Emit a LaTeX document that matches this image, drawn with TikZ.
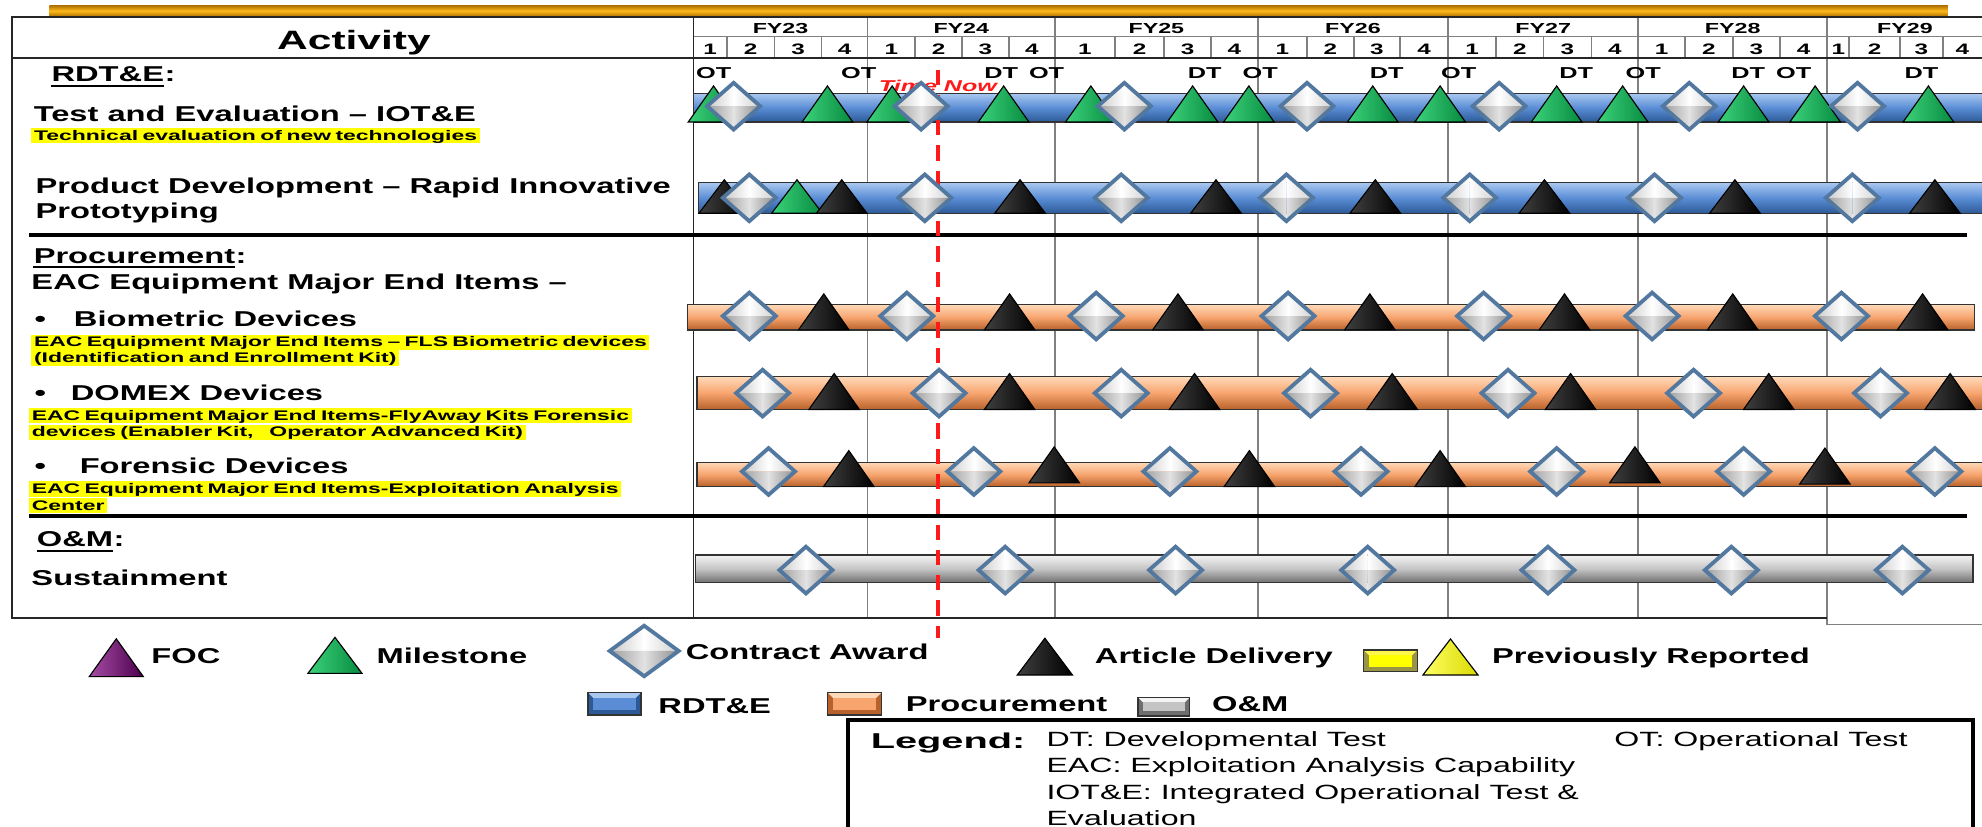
\documentclass[tikz,border=0pt]{standalone}
\usepackage{fontspec}
\setmainfont{Liberation Sans}
\newfontfamily\wf[FakeStretch=1.6]{Liberation Sans}
\newfontfamily\wfb[FakeStretch=1.52]{Liberation Sans}
\newfontfamily\hlf[FakeStretch=1.65]{Liberation Sans}
\newfontfamily\lgf[FakeStretch=1.85]{Liberation Sans}
\newfontfamily\dff[FakeStretch=1.56]{Liberation Sans}
\definecolor{blueL}{HTML}{A9C8F0}\definecolor{blueM}{HTML}{5A8DD6}\definecolor{blueD}{HTML}{2D5A96}
\definecolor{orL}{HTML}{FFD9B8}\definecolor{orM}{HTML}{F7A46E}\definecolor{orD}{HTML}{B8612A}
\definecolor{gyL}{HTML}{F4F4F4}\definecolor{gyM}{HTML}{C4C4C4}\definecolor{gyD}{HTML}{6E6E6E}
\definecolor{grnL}{HTML}{3CD27A}\definecolor{grnD}{HTML}{078A40}
\definecolor{goldL}{HTML}{FFB81A}\definecolor{goldD}{HTML}{A86E00}
\definecolor{dmA}{HTML}{C9C9C9}\definecolor{dmB}{HTML}{CFCFCF}\definecolor{dmC}{HTML}{9C9C9C}
\definecolor{dmD}{HTML}{8C8C8C}\definecolor{dmE}{HTML}{E2E2E2}\definecolor{dmborder}{HTML}{52789F}
\definecolor{gridc}{HTML}{808080}\definecolor{tnred}{HTML}{FF1A1A}
\definecolor{hly}{HTML}{FFFF00}
\tikzset{
  tri shade/.style={},
  tri/.pic={\shade[tri shade, draw=black, line width=0.9, line join=miter] (-20,0) -- (0,-28.5) -- (20,0) -- cycle;},
  gtri/.style={tri shade/.style={left color=grnL, right color=grnD}},
  btri/.style={tri shade/.style={left color=black!75, right color=black}},
  ptri/.style={tri shade/.style={left color=violet!70, right color=violet!60!black}},
  ytri/.style={tri shade/.style={left color=yellow!60, right color=yellow!85!black}},
  dmd/.pic={
    \shade[left color=dmA, right color=white] (-21,0) -- (0,-18.5) -- (0,0) -- cycle;
    \shade[left color=white, right color=dmB] (0,-18.5) -- (21,0) -- (0,0) -- cycle;
    \shade[left color=dmC, right color=dmE] (-21,0) -- (0,18.5) -- (0,0) -- cycle;
    \shade[left color=dmE, right color=dmD] (0,18.5) -- (21,0) -- (0,0) -- cycle;
    \draw[dmborder, line width=3, line join=miter] (-21,0) -- (0,-18.5) -- (21,0) -- (0,18.5) -- cycle;
  },
  barB/.style={draw=black!80, line width=1.1, top color=blueL, bottom color=blueD, middle color=blueM},
  barO/.style={draw=black!80, line width=1.1, top color=orL, bottom color=orD, middle color=orM},
  barG/.style={draw=black!80, line width=1.1, top color=gyL, bottom color=gyD, middle color=gyM},
  big/.style={inner sep=0pt, anchor=base west, font=\wfb\bfseries\fontsize{17}{20}\selectfont},
  hl/.style={anchor=base west, inner xsep=2pt, inner ysep=0pt, text height=9.6pt, text depth=2.6pt, fill=hly,
    font=\hlf\bfseries\fontsize{11}{13}\selectfont, execute at begin node={\spaceskip=3.5pt\relax}},
  hdr/.style={inner sep=0pt, anchor=base, font=\wf\bfseries\fontsize{11.5}{13}\selectfont},
  qlab/.style={inner sep=0pt, anchor=base, font=\wf\bfseries\fontsize{12}{13}\selectfont},
  mlab/.style={inner sep=0pt, anchor=base, font=\wf\bfseries\fontsize{12.5}{14}\selectfont},
  leg/.style={inner sep=0pt, anchor=base west, font=\wfb\bfseries\fontsize{17}{20}\selectfont},
  defn/.style={inner sep=0pt, anchor=base west, font=\dff\fontsize{16.3}{19}\selectfont},
  grid line/.style={gridc, line width=1.3},
  sep line/.style={black, line width=2.8},
}
\newcommand\mkD[2]{\pic at (#1,#2) {dmd};}
\newcommand\mkG[3][]{\pic[gtri,#1] at (#2,#3) {tri};}
\newcommand\mkB[3][]{\pic[btri,#1] at (#2,#3) {tri};}
\begin{document}
\begin{tikzpicture}[x=1pt,y=-1pt]
\useasboundingbox (0,0) rectangle (1568,654);
\clip (0,0) rectangle (1568,654);
\fill[white] (0,0) rectangle (1568,654);
% gold bar
\shade[top color=goldD, bottom color=goldD, middle color=goldL] (39,4) rectangle (1541,13.2);
% grid
\foreach \x in {686.3,834.6,995,1145.6,1296} \draw[grid line] (\x,13.7) -- (\x,489);
\draw[grid line] (1445.6,13.7) -- (1445.6,494) -- (1568,494);
\foreach \x in {575,612.8,650,724,761,798,882,921,958,1034,1071,1107.6,1183.5,1221,1259,1333,1371,1408,1463,1503,1537}
  \draw[grid line] (\x,29) -- (\x,46);
\draw[grid line] (548.6,29) -- (1568,29);
\draw[black!85, line width=1.3] (1568,13.7) -- (9.5,13.7) -- (9.5,489) -- (1445.6,489);
\draw[black!85, line width=1.3] (9.5,46) -- (1568,46);
\draw[black!85, line width=1.3] (548.6,13.7) -- (548.6,489);
\draw[sep line] (23,186) -- (1556,186);
\draw[sep line] (23,408) -- (1556,408);
% header labels
\foreach \x/\t [count=\i] in {617.5/FY23,760.5/FY24,914.8/FY25,1070.3/FY26,1220.8/FY27,1370.8/FY28,1507/FY29}
  \node[hdr] (fy\i) at (\x,26.4) {\t};
\foreach \x/\t [count=\i] in {561.8/1,593.9/2,631.4/3,668.2/4,705.2/1,742.5/2,779.5/3,816.3/4,858.3/1,901.5/2,939.5/3,976.5/4,1014.5/1,1052.5/2,1089.3/3,1126.6/4,1164.6/1,1202.3/2,1240/3,1277.5/4,1314.5/1,1352/2,1389.5/3,1426.8/4,1454.3/1,1483/2,1520/3,1552.5/4}
  \node[qlab] (q\i) at (\x,43.5) {\t};
\node[inner sep=0pt, anchor=base, font=\wf\bfseries\fontsize{21}{24}\selectfont] (act) at (280,39) {Activity};
% bars
\path[barB] (548.6,73.8) rectangle (1575,96.5);
\path[barB] (552.8,144.5) rectangle (1575,168.7);
\path[barO] (544,241) rectangle (1562,261);
\path[barO] (551.5,298) rectangle (1575,324);
\path[barO] (551.5,365.7) rectangle (1575,385);
\path[barG] (550,439) rectangle (1561,461);
% time now
\draw[tnred, line width=3.5, dash pattern=on 12pt off 8pt] (742,55) -- (742,505);
\node[inner sep=0pt, anchor=base, text=tnred, font=\wf\bfseries\itshape\fontsize{12.4}{14}\selectfont] (tn) at (742,72.5) {Time Now};
% OT / DT labels
\foreach \x/\t [count=\i] in {564.6/OT,679.3/OT,792/DT,828/OT,953/DT,997/OT,1097/DT,1154/OT,1247/DT,1300/OT,1383/DT,1419/OT,1520/DT}
  \node[mlab] (lb\i) at (\x,62) {\t};
% row 1
\mkG{564.5}{96.5}\mkD{580.4}{84}\mkG{654.6}{96.5}\mkG{705.8}{96.5}\mkD{728.7}{84}\mkG{794}{96.5}
\mkG{863}{96.5}\mkD{889.5}{84}\mkG{943.5}{96.5}\mkG{988}{96.5}\mkD{1034}{84}\mkG{1086}{96.5}
\mkG{1139.3}{96.5}\mkD{1186}{84}\mkG{1231.5}{96.5}\mkG{1283.7}{96.5}\mkD{1336.4}{84}\mkG{1379.4}{96.5}
\mkG{1436}{96.5}\mkD{1469.5}{84}\mkG{1525.6}{96.5}
% row 2
\mkB[yscale=.93]{573}{168.7}\mkD{592.8}{156.5}\mkG[yscale=.93]{630.5}{168.7}\mkB[yscale=.93]{665.9}{168.7}
\mkD{731.6}{156.5}\mkB[yscale=.93]{807}{168.7}\mkD{887}{156.5}\mkB[yscale=.93]{962}{168.7}
\mkD{1017.7}{156.5}\mkB[yscale=.93]{1088}{168.7}\mkD{1162.7}{156.5}\mkB[yscale=.93]{1221.8}{168.7}
\mkD{1308.9}{156.5}\mkB[yscale=.93]{1372.5}{168.7}\mkD{1465.4}{156.5}\mkB[yscale=.93]{1530.7}{168.7}
% row 3
\mkD{592.8}{250}\mkB{651.7}{261}\mkD{717.4}{250}\mkB{798.7}{261}\mkD{867.2}{250}\mkB{931.9}{261}
\mkD{1019}{250}\mkB{1083.7}{261}\mkD{1173.7}{250}\mkB{1237.7}{261}\mkD{1307}{250}\mkB{1370.8}{261}
\mkD{1456.8}{250}\mkB{1521}{261}
% row 4
\mkD{603.3}{311}\mkB{659.9}{324}\mkD{742.9}{311}\mkB{798.7}{324}\mkD{887}{311}\mkB{945}{324}
\mkD{1036.8}{311}\mkB{1101.4}{324}\mkD{1193}{311}\mkB{1242.5}{324}\mkD{1339.8}{311}\mkB{1399.3}{324}
\mkD{1487.7}{311}\mkB{1542.8}{324}
% row 5
\mkD{608}{373}\mkB{671.5}{385}\mkD{770.4}{373}\mkB{834}{382}\mkD{925.5}{373}\mkB{988.4}{385}
\mkD{1076.7}{373}\mkB{1139.3}{385}\mkD{1231.5}{373}\mkB{1293.4}{382}\mkD{1379.4}{373}\mkB{1443.7}{383}
\mkD{1530.7}{373}
% row 6
\mkD{637.6}{451}\mkD{795.2}{451}\mkD{930}{451}\mkD{1082}{451}\mkD{1224.6}{451}\mkD{1369.7}{451}\mkD{1505}{451}
% left column
\node[big] (rde) at (40.6,64.6) {RDT\&E};
\node[big] (rdec) at (rde.base east) {:};
\draw[line width=1.3] ([yshift=-3.5pt]rde.base west) -- ([yshift=-3.5pt]rde.base east);
\node[big] (te) at (26.5,96.3) {Test and Evaluation – IOT\&E};
\node[hl] (teh) at (24.7,110.8) {Technical evaluation of new technologies};
\node[big] (pd1) at (28,153) {Product Development – Rapid Innovative};
\node[big] (pd2) at (28,172.7) {Prototyping};
\node[big] (pr) at (26.5,208.4) {Procurement};
\node[big] (prc) at (pr.base east) {:};
\draw[line width=1.3] ([yshift=-3pt]pr.base west) -- ([yshift=-3pt]pr.base east);
\node[big] (eac) at (24.7,229) {EAC Equipment Major End Items –};
\node[big, anchor=base] (b1) at (32,258.5) {•};
\node[big] (bio) at (58.3,258.5) {Biometric Devices};
\node[hl] (bioh1) at (24.7,274.3) {EAC Equipment Major End Items – FLS Biometric devices};
\node[hl] (bioh2) at (24.7,286.7) {(Identification and Enrollment Kit)};
\node[big, anchor=base] (b2) at (32,316.5) {•};
\node[big] (dom) at (55.8,316.5) {DOMEX Devices};
\node[hl] (domh1) at (23,332.3) {EAC Equipment Major End Items-FlyAway Kits Forensic};
\node[hl] (domh2) at (23,345.5) {devices (Enabler Kit,\hspace{9pt} Operator Advanced Kit)};
\node[big, anchor=base] (b3) at (32,374.5) {•};
\node[big] (for) at (62.9,374.5) {Forensic Devices};
\node[hl] (forh1) at (23,390.3) {EAC Equipment Major End Items-Exploitation Analysis};
\node[hl] (forh2) at (23,403.5) {Center};
\node[big] (om) at (29,432.5) {O\&M};
\node[big] (omc) at (om.base east) {:};
\draw[line width=1.3] ([yshift=-3.2pt]om.base west) -- ([yshift=-3.2pt]om.base east);
\node[big] (sus) at (24.7,462.9) {Sustainment};
% legend symbols
\pic[ptri, xscale=1.07, yscale=1.05] at (92,535.3) {tri};
\node[leg] (lfoc) at (119.6,524.8) {FOC};
\pic[gtri, xscale=1.07, yscale=1.0] at (265,532.7) {tri};
\node[leg] (lmil) at (297.7,524.8) {Milestone};
\pic[xscale=1.3, yscale=1.08] at (509.6,515) {dmd};
\node[leg] (lca) at (542.4,522.1) {Contract Award};
\pic[btri, xscale=1.09, yscale=1.02] at (826.6,534) {tri};
\node[leg] (lad) at (866,524.8) {Article Delivery};
\fill[yellow!55!black] (1078.8,514.2) rectangle (1121.4,531.4);
\fill[yellow!70!white] (1078.8,514.2) -- (1121.4,514.2) -- (1117.4,518.2) -- (1082.8,518.2) -- cycle;
\fill[hly] (1082.8,518.2) rectangle (1117.4,527.4);
\draw[black!80, line width=1] (1078.8,514.2) rectangle (1121.4,531.4);
\pic[ytri, xscale=1.09, yscale=1.0] at (1147.5,534) {tri};
\node[leg] (lpr) at (1180.3,524.8) {Previously Reported};
% legend bars
\foreach \xa/\xb/\ya/\yb/\cd/\cl/\cm [count=\i] in {465.2/507/548/565.7/blueD/blueL/blueM,654.9/697.3/548/565.7/orD/orL/orM,900.3/941.3/551.7/566.5/gyD/gyL/gyM}{
  \fill[\cd] (\xa,\ya) rectangle (\xb,\yb);
  \fill[\cl] (\xa,\ya) -- (\xb,\ya) -- (\xb-4,\ya+4) -- (\xa+4,\ya+4) -- cycle;
  \fill[\cm] (\xa+4,\ya+4) rectangle (\xb-4,\yb-4);
  \draw[black!80, line width=1] (\xa,\ya) rectangle (\xb,\yb);
}
\node[leg] (lrd) at (520.7,564.3) {RDT\&E};
\node[leg] (lpc) at (716.4,563) {Procurement};
\node[leg] (lom) at (958.7,563) {O\&M};
% legend box
\draw[black, line width=3.5] (671,569.6) rectangle (1560.8,700);
\node[inner sep=0pt, anchor=base west, font=\lgf\bfseries\fontsize{17}{20}\selectfont] (lgd) at (688.7,592) {Legend:};
\node[defn] (d1) at (827.7,590.7) {DT: Developmental Test};
\node[defn] (d2) at (1277,590.7) {OT: Operational Test};
\node[defn] (d3) at (827.7,611.5) {EAC: Exploitation Analysis Capability};
\node[defn] (d4) at (827.7,632.5) {IOT\&E: Integrated Operational Test \&};
\node[defn] (d5) at (827.7,653.3) {Evaluation};
\end{tikzpicture}
\end{document}
